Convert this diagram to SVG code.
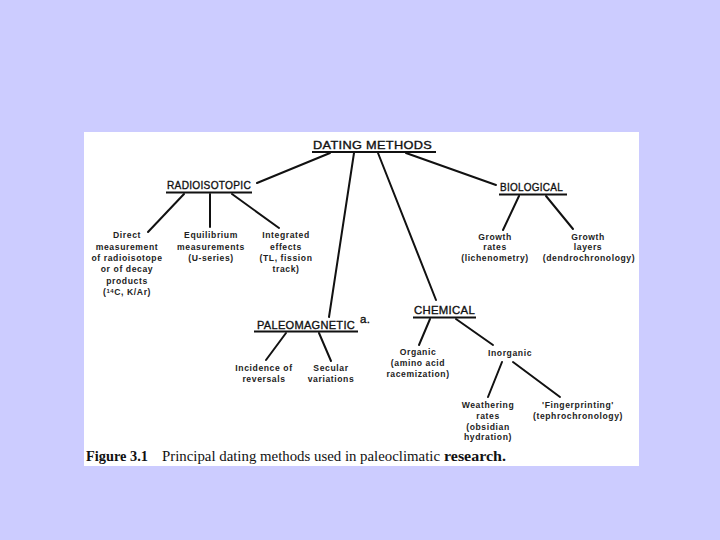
<svg xmlns="http://www.w3.org/2000/svg" width="720" height="540" viewBox="0 0 720 540">
<style>
.h{font-family:"Liberation Sans",Arial,sans-serif;font-size:11.5px;fill:#111;stroke:#111;stroke-width:0.35;letter-spacing:0.3px}
.t{font-family:"Liberation Sans",Arial,sans-serif;font-size:8.6px;font-weight:bold;fill:#222;text-anchor:middle;letter-spacing:0.6px}
.u{stroke:#111;stroke-width:2;fill:none}
.c line{stroke:#111;stroke-width:2;stroke-linecap:round}
.cap{font-family:"Liberation Serif","Times New Roman",serif;font-size:15px;fill:#111}
</style>
<rect width="720" height="540" fill="#ccccff"/>
<rect x="84" y="132" width="555" height="334" fill="#ffffff"/>
<g class="c" id="connectors">
<line x1="330" y1="153" x2="257" y2="183"/>
<line x1="354" y1="153" x2="329" y2="317"/>
<line x1="378" y1="153" x2="436" y2="300"/>
<line x1="406" y1="153" x2="496" y2="185"/>
<line x1="184" y1="194" x2="148" y2="232"/>
<line x1="210" y1="194" x2="210" y2="227"/>
<line x1="232" y1="194" x2="279" y2="228"/>
<line x1="519" y1="196" x2="503" y2="230"/>
<line x1="546" y1="196" x2="573" y2="229"/>
<line x1="286" y1="333" x2="266" y2="360"/>
<line x1="319" y1="333" x2="331" y2="361"/>
<line x1="430" y1="319" x2="419" y2="345"/>
<line x1="456" y1="319" x2="493" y2="345"/>
<line x1="502" y1="362" x2="488" y2="397"/>
<line x1="513" y1="362" x2="560" y2="397"/>
</g>
<g id="dating-methods">
<text class="h" x="313" y="149" textLength="119" lengthAdjust="spacingAndGlyphs">DATING METHODS</text>
<line class="u" x1="312" y1="152" x2="436" y2="152"/>
</g>
<g id="radioisotopic">
<text class="h" x="167" y="189" textLength="84" lengthAdjust="spacingAndGlyphs">RADIOISOTOPIC</text>
<line class="u" x1="166" y1="192.5" x2="252" y2="192.5"/>
</g>
<g id="direct">
<text class="t" x="127" y="238">Direct</text>
<text class="t" x="127" y="250">measurement</text>
<text class="t" x="127" y="261">of radioisotope</text>
<text class="t" x="127" y="272">or of decay</text>
<text class="t" x="127" y="284">products</text>
<text class="t" x="127" y="295">(<tspan font-size="6" dy="-2">14</tspan><tspan dy="2">C, K/Ar)</tspan></text>
</g>
<g id="equilibrium">
<text class="t" x="211" y="238">Equilibrium</text>
<text class="t" x="211" y="250">measurements</text>
<text class="t" x="211" y="261">(U-series)</text>
</g>
<g id="integrated">
<text class="t" x="286" y="238">Integrated</text>
<text class="t" x="286" y="250">effects</text>
<text class="t" x="286" y="261">(TL, fission</text>
<text class="t" x="286" y="272">track)</text>
</g>
<g id="biological">
<text class="h" x="500" y="191" textLength="63" lengthAdjust="spacingAndGlyphs">BIOLOGICAL</text>
<line class="u" x1="499" y1="194.5" x2="567" y2="194.5" stroke-width="2.5"/>
</g>
<g id="growth-rates">
<text class="t" x="495" y="240">Growth</text>
<text class="t" x="495" y="250">rates</text>
<text class="t" x="495" y="261">(lichenometry)</text>
</g>
<g id="growth-layers">
<text class="t" x="588" y="240">Growth</text>
<text class="t" x="588" y="250">layers</text>
<text class="t" x="589" y="261">(dendrochronology)</text>
</g>
<g id="paleomagnetic">
<text class="h" x="257" y="329" textLength="98" lengthAdjust="spacingAndGlyphs">PALEOMAGNETIC</text>
<text class="h" x="360" y="323" font-size="8" stroke-width="0.2">a.</text>
<line class="u" x1="254" y1="331.5" x2="358" y2="331.5"/>
</g>
<g id="incidence">
<text class="t" x="264" y="371">Incidence of</text>
<text class="t" x="264" y="382">reversals</text>
</g>
<g id="secular">
<text class="t" x="331" y="371">Secular</text>
<text class="t" x="331" y="382">variations</text>
</g>
<g id="chemical">
<text class="h" x="414" y="314" textLength="61" lengthAdjust="spacingAndGlyphs">CHEMICAL</text>
<line class="u" x1="413" y1="317.5" x2="476" y2="317.5" stroke-width="2.5"/>
</g>
<g id="organic">
<text class="t" x="418" y="355">Organic</text>
<text class="t" x="418" y="366">(amino acid</text>
<text class="t" x="418" y="377">racemization)</text>
</g>
<g id="inorganic">
<text class="t" x="510" y="356">Inorganic</text>
</g>
<g id="weathering">
<text class="t" x="488" y="408">Weathering</text>
<text class="t" x="488" y="419">rates</text>
<text class="t" x="488" y="430">(obsidian</text>
<text class="t" x="488" y="440">hydration)</text>
</g>
<g id="fingerprinting">
<text class="t" x="578" y="408">'Fingerprinting'</text>
<text class="t" x="578" y="419">(tephrochronology)</text>
</g>
<g id="caption">
<text class="cap" x="86" y="461" font-weight="bold" textLength="62" lengthAdjust="spacingAndGlyphs">Figure 3.1</text>
<text class="cap" x="162" y="461" textLength="278" lengthAdjust="spacingAndGlyphs">Principal dating methods used in paleoclimatic</text>
<text class="cap" x="444" y="461" font-weight="bold" textLength="62" lengthAdjust="spacingAndGlyphs">research.</text>
</g>
</svg>
